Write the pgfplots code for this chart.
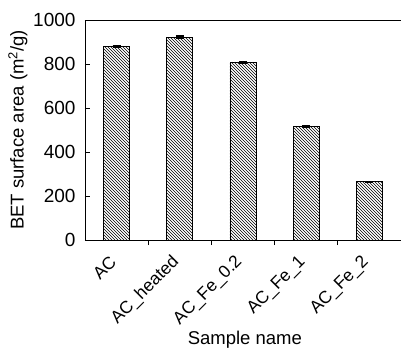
\documentclass[border=0pt]{standalone}
\usepackage{fontspec}
\setmainfont{Liberation Sans}
\usepackage{pgfplots}
\pgfplotsset{compat=1.18}
\usetikzlibrary{patterns}
\begin{document}
\begin{tikzpicture}
\path[use as bounding box] (-85pt,-113pt) rectangle (316pt,240pt);
\begin{axis}[
  at={(0pt,0pt)}, anchor=south west,
  scale only axis, width=316pt, height=220pt,
  xmin=-0.5, xmax=4.5, ymin=0, ymax=1000,
  xtick={0,1,2,3,4},
  xticklabels={AC,AC\_heated,AC\_Fe\_0.2,AC\_Fe\_1,AC\_Fe\_2},
  major x tick style={draw=none},
  minor xtick={0.5,1.5,2.5,3.5},
  ytick={0,200,400,600,800,1000},
  xtick pos=bottom, ytick pos=left,
  tick align=inside,
  major tick length=5pt, minor tick length=5pt,
  axis line style={line width=0.8pt},
  tick style={line width=0.8pt, black},
  /pgf/number format/assume math mode=true,
  /pgf/number format/1000 sep={},
  ticklabel style={font=\fontsize{19}{22}\selectfont},
  xticklabel style={font=\fontsize{17.5}{21}\selectfont, xshift=-1pt, yshift=-12pt, rotate=45, anchor=east},
  yticklabel style={xshift=-6pt},
  xlabel={Sample name},
  ylabel={BET surface area (m\textsuperscript{2}/g)},
  label style={font=\fontsize{18.5}{22}\selectfont},
  xlabel style={at={(axis description cs:0.506,-0.455)}, anchor=center},
  ylabel style={at={(axis description cs:-0.212,0.5)}, anchor=center},
  ybar, bar width=26pt,
]
\addplot[draw=black, line width=0.7pt, pattern=north west lines,
  error bars/.cd, y dir=both, y explicit,
  error bar style={line width=1.6pt, black},
  error mark options={rotate=90, mark size=4pt, line width=1.6pt, black}]
  coordinates {(0,880) +- (0,4) (1,922) +- (0,4) (2,808) +- (0,4) (3,517) +- (0,4) (4,265) +- (0,0)};
\end{axis}
\end{tikzpicture}
\end{document}
